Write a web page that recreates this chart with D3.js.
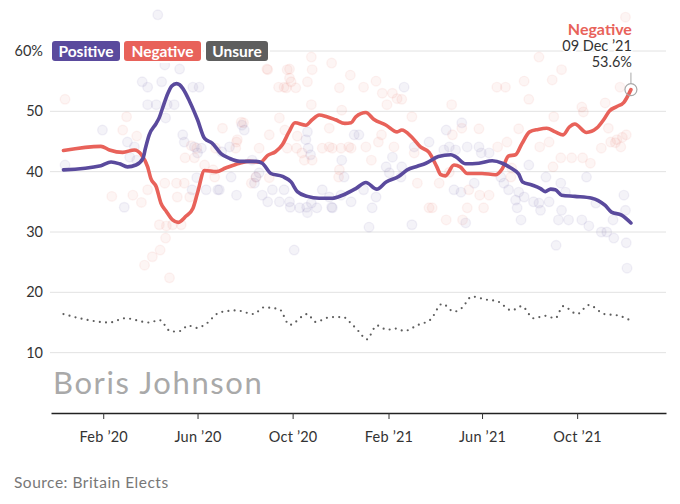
<!DOCTYPE html>
<html><head><meta charset="utf-8">
<script src="https://cdn.jsdelivr.net/npm/d3@7"></script>
<style>
body{margin:0;background:#fff}
svg{display:block}
text{font-family:Lato,"Noto Sans",sans-serif}
</style>
</head><body>
<svg id="chart" width="680" height="504"></svg>
<script>
// ---------- DATA ----------
const seriesNames = ["Positive", "Negative", "Unsure"];
const yTicks = [10, 20, 30, 40, 50, 60];
const xTickDates = ["2020-02-01", "2020-06-01", "2020-10-01", "2021-02-01", "2021-06-01", "2021-10-01"];

const positiveTrend = [["2019-12-12",40.3],["2020-01-29",41.0],["2020-02-11",41.6],["2020-02-22",41.3],["2020-03-03",40.8],["2020-03-14",41.1],["2020-03-23",42.2],["2020-03-26",43.8],["2020-03-31",46.1],["2020-04-09",48.0],["2020-04-13",49.0],["2020-04-17",50.5],["2020-04-24",53.0],["2020-04-29",54.2],["2020-05-05",54.6],["2020-05-09",54.4],["2020-05-13",53.8],["2020-05-22",51.6],["2020-06-01",48.6],["2020-06-10",45.5],["2020-06-20",44.7],["2020-07-01",43.0],["2020-07-12",42.2],["2020-07-25",41.7],["2020-08-06",41.7],["2020-08-15",41.7],["2020-08-23",41.4],["2020-09-03",39.7],["2020-09-18",39.2],["2020-09-29",38.3],["2020-10-07",36.7],["2020-10-20",35.9],["2020-11-04",35.6],["2020-11-21",35.6],["2020-12-04",36.1],["2020-12-21",37.2],["2021-01-03",38.2],["2021-01-17",37.1],["2021-01-29",38.3],["2021-02-14",39.2],["2021-02-25",40.3],["2021-03-10",40.9],["2021-03-21",41.4],["2021-04-06",42.5],["2021-04-22",42.8],["2021-04-28",42.5],["2021-05-11",41.3],["2021-05-28",41.4],["2021-06-14",41.8],["2021-06-27",41.4],["2021-07-08",40.6],["2021-07-18",39.6],["2021-07-23",38.3],["2021-08-04",37.8],["2021-08-15",37.2],["2021-08-21",36.7],["2021-08-28",37.1],["2021-09-03",37.0],["2021-09-11",36.1],["2021-09-28",35.9],["2021-10-20",35.6],["2021-10-28",35.2],["2021-11-06",34.4],["2021-11-14",33.3],["2021-11-27",32.8],["2021-12-09",31.5]];

const negativeTrend = [["2019-12-12",43.5],["2020-01-29",44.2],["2020-02-09",43.6],["2020-02-26",43.2],["2020-03-12",43.6],["2020-03-21",42.8],["2020-03-29",40.8],["2020-04-02",38.9],["2020-04-09",37.5],["2020-04-15",34.8],["2020-04-22",33.4],["2020-04-30",32.0],["2020-05-07",31.6],["2020-05-17",32.6],["2020-05-26",33.9],["2020-06-01",36.5],["2020-06-10",40.2],["2020-06-25",40.0],["2020-07-07",40.6],["2020-07-25",41.4],["2020-08-06",41.7],["2020-08-21",41.6],["2020-08-30",42.7],["2020-09-09",43.3],["2020-09-18",44.5],["2020-09-26",46.5],["2020-10-04",48.1],["2020-10-18",47.7],["2020-10-26",48.6],["2020-11-04",49.4],["2020-11-14",49.1],["2020-11-25",48.6],["2020-12-07",48.0],["2020-12-15",48.1],["2020-12-21",49.1],["2021-01-03",49.8],["2021-01-13",48.7],["2021-01-29",47.7],["2021-02-12",46.6],["2021-02-18",46.9],["2021-03-03",45.7],["2021-03-14",44.1],["2021-03-25",43.2],["2021-04-04",40.8],["2021-04-09",39.5],["2021-04-15",39.3],["2021-04-26",41.1],["2021-05-04",40.8],["2021-05-13",39.7],["2021-06-01",39.7],["2021-06-18",39.5],["2021-06-27",40.5],["2021-07-05",42.6],["2021-07-14",42.8],["2021-07-22",44.6],["2021-08-01",46.6],["2021-08-12",47.0],["2021-08-23",47.2],["2021-09-03",46.6],["2021-09-13",46.1],["2021-09-21",47.4],["2021-09-28",47.9],["2021-10-13",46.5],["2021-10-26",47.2],["2021-11-04",48.6],["2021-11-11",50.0],["2021-11-21",50.8],["2021-11-30",51.5],["2021-12-09",53.6]];

const unsureTrend = [["2019-12-12",16.4],["2020-01-09",15.5],["2020-02-09",15.0],["2020-02-29",15.7],["2020-03-31",15.0],["2020-04-13",15.4],["2020-04-28",13.5],["2020-05-10",13.6],["2020-05-20",14.5],["2020-05-31",14.1],["2020-06-10",14.6],["2020-06-30",16.7],["2020-07-21",17.0],["2020-08-12",16.4],["2020-08-25",17.5],["2020-09-14",17.2],["2020-09-27",14.6],["2020-10-20",16.4],["2020-10-30",15.1],["2020-11-19",15.9],["2020-12-05",15.9],["2020-12-13",15.1],["2020-12-25",13.5],["2021-01-04",12.2],["2021-01-17",14.5],["2021-01-30",13.8],["2021-02-11",14.0],["2021-02-21",13.6],["2021-03-11",14.6],["2021-03-27",15.5],["2021-04-11",18.1],["2021-04-26",16.8],["2021-05-06",17.4],["2021-05-19",19.3],["2021-06-06",18.8],["2021-06-21",18.5],["2021-07-09",17.0],["2021-07-22",17.7],["2021-08-06",15.7],["2021-08-21",16.1],["2021-09-03",15.7],["2021-09-13",17.7],["2021-10-01",16.4],["2021-10-16",17.9],["2021-11-05",16.4],["2021-11-21",16.2],["2021-12-09",15.3]];

const positivePolls = [["2019-12-14",41.1],["2020-01-31",46.9],["2020-02-28",34.1],["2020-03-03",44.9],["2020-03-12",44.1],["2020-03-06",42.4],["2020-03-15",41.9],["2020-03-22",54.9],["2020-03-29",54.0],["2020-03-29",51.1],["2020-04-11",66.0],["2020-04-20",57.7],["2020-05-09",57.0],["2020-04-16",54.9],["2020-05-26",54.0],["2020-06-03",54.0],["2020-05-02",51.1],["2020-04-23",51.1],["2020-04-09",51.1],["2020-04-21",48.9],["2020-05-13",46.1],["2020-05-15",44.9],["2020-05-28",44.1],["2020-06-01",43.1],["2020-06-06",43.9],["2020-07-12",44.1],["2020-07-02",43.3],["2020-07-21",36.1],["2020-05-25",37.0],["2020-06-27",37.0],["2020-07-14",39.1],["2020-05-31",39.0],["2020-06-12",37.0],["2020-06-29",37.0],["2020-07-28",47.7],["2020-07-31",46.9],["2020-08-10",41.9],["2020-08-15",39.1],["2020-08-19",39.8],["2020-08-23",36.1],["2020-08-30",35.0],["2020-09-05",37.0],["2020-09-14",35.0],["2020-09-27",35.0],["2020-09-28",34.1],["2020-10-10",34.0],["2020-10-19",34.1],["2020-10-20",33.2],["2020-10-25",34.8],["2020-11-01",34.0],["2020-11-08",37.0],["2020-11-21",34.0],["2020-12-02",36.1],["2020-12-03",41.9],["2020-12-15",35.0],["2020-10-18",45.3],["2020-10-21",43.9],["2020-10-20",46.6],["2020-12-19",46.1],["2020-10-03",27.0],["2020-10-24",42.8],["2020-09-20",37.0],["2020-08-13",38.1],["2020-11-17",35.8],["2020-11-20",34.1],["2020-12-06",39.1],["2021-02-21",54.0],["2020-12-25",46.1],["2020-12-31",37.0],["2021-01-16",35.8],["2021-01-11",34.0],["2021-01-07",30.8],["2021-01-29",40.8],["2021-02-06",42.4],["2021-02-18",40.8],["2021-03-06",44.1],["2021-03-25",44.9],["2021-03-03",31.2],["2021-02-17",39.1],["2021-02-02",39.8],["2021-04-16",46.9],["2021-04-13",43.6],["2021-05-06",48.1],["2021-04-20",44.1],["2021-04-28",43.6],["2021-05-13",44.1],["2021-05-28",44.1],["2021-05-31",43.1],["2021-06-10",43.1],["2021-05-22",38.1],["2021-04-26",37.0],["2021-05-05",36.6],["2021-06-25",39.1],["2021-06-29",38.1],["2021-07-05",37.0],["2021-07-18",36.6],["2021-07-25",35.8],["2021-07-31",41.1],["2021-07-14",35.3],["2021-07-16",34.0],["2021-08-06",35.0],["2021-08-13",34.8],["2021-07-21",32.0],["2021-05-11",31.5],["2021-08-15",33.6],["2021-08-22",39.1],["2021-09-10",38.1],["2021-09-16",36.6],["2021-08-26",35.0],["2021-09-11",33.6],["2021-09-07",32.0],["2021-09-20",32.0],["2021-10-07",32.0],["2021-10-16",31.0],["2021-11-01",30.0],["2021-11-08",30.0],["2021-11-17",29.0],["2021-11-30",36.1],["2021-12-02",33.6],["2021-11-16",32.0],["2021-12-03",28.2],["2021-12-04",24.0],["2021-09-04",27.8],["2021-10-13",39.1],["2021-10-25",34.8]];

const negativePolls = [["2019-12-14",52.0],["2020-03-02",49.1],["2020-02-26",46.9],["2020-03-15",45.9],["2020-02-12",35.9],["2020-03-10",36.1],["2020-03-21",34.9],["2020-03-29",37.0],["2020-03-25",24.5],["2020-07-30",48.1],["2020-07-03",47.2],["2020-07-21",44.9],["2020-05-24",44.3],["2020-06-10",41.1],["2020-06-23",39.1],["2020-05-05",38.1],["2020-04-20",38.1],["2020-05-15",38.1],["2020-05-22",35.8],["2020-05-06",35.8],["2020-04-30",31.2],["2020-05-11",31.2],["2020-04-13",31.2],["2020-04-22",31.0],["2020-04-21",29.0],["2020-04-14",27.0],["2020-04-04",25.9],["2020-04-26",22.4],["2020-06-24",43.9],["2020-05-16",42.3],["2020-05-31",43.9],["2020-05-28",42.3],["2020-06-21",40.3],["2020-07-22",45.3],["2020-07-20",43.9],["2020-08-19",43.9],["2020-09-01",46.1],["2020-09-24",43.9],["2020-10-06",43.9],["2020-10-16",41.9],["2020-10-26",41.9],["2020-11-08",43.9],["2020-11-21",43.9],["2020-12-02",43.9],["2020-12-15",43.9],["2020-09-14",48.9],["2020-09-23",53.9],["2020-09-13",54.0],["2020-09-27",55.5],["2020-10-05",53.9],["2020-10-20",54.9],["2020-10-26",56.9],["2020-11-20",58.0],["2020-11-30",53.9],["2020-12-14",56.0],["2020-12-03",50.2],["2020-10-25",51.1],["2020-08-30",56.9],["2020-09-24",56.9],["2020-07-27",48.2],["2020-09-01",39.0],["2020-10-25",59.0],["2020-08-29",57.0],["2020-09-27",57.0],["2020-09-20",54.0],["2020-09-29",54.9],["2020-11-17",47.2],["2020-09-21",46.9],["2020-10-07",45.9],["2020-11-17",44.1],["2020-10-13",43.1],["2020-11-30",40.3],["2020-08-15",39.1],["2020-08-09",38.1],["2020-11-29",39.1],["2021-01-16",55.0],["2020-12-31",54.0],["2021-02-06",53.0],["2021-01-24",53.0],["2021-02-12",52.1],["2021-02-18",52.0],["2021-01-30",51.1],["2021-03-03",49.1],["2020-12-12",44.1],["2021-01-03",44.1],["2021-01-19",44.9],["2021-01-23",46.1],["2021-02-08",44.1],["2021-01-10",41.9],["2021-03-06",43.1],["2021-03-10",38.1],["2021-04-07",38.1],["2021-03-25",34.0],["2021-03-29",34.0],["2021-04-16",32.0],["2021-08-13",59.0],["2021-07-25",55.0],["2021-06-20",54.0],["2021-07-01",54.0],["2021-07-31",52.0],["2021-04-23",51.1],["2021-07-18",47.1],["2021-05-28",47.1],["2021-04-24",46.1],["2021-05-06",47.2],["2021-07-03",44.9],["2021-06-21",44.1],["2021-04-20",39.9],["2021-05-15",37.0],["2021-05-29",36.1],["2021-06-10",36.1],["2021-06-03",34.0],["2021-05-13",34.0],["2021-05-07",32.0],["2021-07-09",40.6],["2021-07-08",39.1],["2021-08-14",44.1],["2021-12-02",65.6],["2021-09-11",56.9],["2021-08-30",55.2],["2021-10-07",50.7],["2021-09-01",49.1],["2021-11-10",47.2],["2021-12-03",46.1],["2021-11-21",45.3],["2021-11-13",44.9],["2021-08-26",44.9],["2021-09-10",42.3],["2021-09-24",42.3],["2021-10-08",42.3],["2021-10-18",41.4],["2021-11-01",43.9],["2021-11-26",44.1],["2021-08-31",40.8],["2021-11-25",54.0],["2021-10-09",49.9],["2021-11-06",51.4],["2021-11-19",44.8],["2021-11-28",45.7]];

const titleText = "Boris Johnson";
const sourceText = "Source: Britain Elects";

// ---------- STYLE / LAYOUT ----------
const colors = { Positive: "#5a4a9d", Negative: "#e8625a", Unsure: "#5e5e5e" };
const parse = d3.timeParse("%Y-%m-%d");
const svg = d3.select("#chart");

const x = d3.scaleTime()
  .domain([parse("2019-11-26"), parse("2022-01-23")])
  .range([51, 666]);
const y = d3.scaleLinear().domain([0, 60]).range([413, 51]);

// gridlines
svg.append("g").selectAll("line").data(yTicks).join("line")
  .attr("x1", 50).attr("x2", 666)
  .attr("y1", d => y(d)).attr("y2", d => y(d))
  .attr("stroke", "#e2e2e2").attr("stroke-width", 1);

// y labels
svg.append("g").selectAll("text").data(yTicks).join("text")
  .attr("x", 43).attr("y", d => y(d)).attr("dy", "0.35em")
  .attr("text-anchor", "end").attr("font-size", 14.5).attr("fill", "#333")
  .text(d => d === 60 ? d + "%" : d);

// scatter
function dots(data, color) {
  svg.append("g").selectAll("circle").data(data).join("circle")
    .attr("cx", d => x(parse(d[0]))).attr("cy", d => y(d[1])).attr("r", 4.8)
    .attr("fill", color).attr("fill-opacity", 0.065)
    .attr("stroke", color).attr("stroke-opacity", 0.07).attr("stroke-width", 1.4);
}
dots(negativePolls, colors.Negative);
dots(positivePolls, colors.Positive);

const line = d3.line().x(d => x(parse(d[0]))).y(d => y(d[1])).curve(d3.curveMonotoneX);

// unsure dotted
svg.append("path").datum(unsureTrend).attr("d", line)
  .attr("fill", "none").attr("stroke", colors.Unsure).attr("stroke-width", 2.2)
  .attr("stroke-linecap", "round").attr("stroke-dasharray", "0 6.2");

svg.append("path").datum(negativeTrend).attr("d", line)
  .attr("fill", "none").attr("stroke", colors.Negative).attr("stroke-width", 3.6)
  .attr("stroke-linejoin", "round").attr("stroke-linecap", "round");
svg.append("path").datum(positiveTrend).attr("d", line)
  .attr("fill", "none").attr("stroke", colors.Positive).attr("stroke-width", 3.6)
  .attr("stroke-linejoin", "round").attr("stroke-linecap", "round");

// x axis
const xAxis = d3.axisBottom(x)
  .tickValues(xTickDates.map(parse))
  .tickFormat(d3.timeFormat("%b \u2019%y"))
  .tickSize(6).tickSizeOuter(0).tickPadding(13);
const gx = svg.append("g").attr("transform", "translate(0,413)").call(xAxis);
gx.select(".domain").attr("stroke", "#222").attr("stroke-width", 1.6);
gx.selectAll(".tick line").attr("stroke", "#333");
gx.selectAll(".tick text").attr("font-family", "Lato, 'Noto Sans', sans-serif")
  .attr("font-size", 14.5).attr("fill", "#333").attr("letter-spacing", 0.2);

// annotation on last negative point
const last = negativeTrend[negativeTrend.length - 1];
const lx = x(parse(last[0])), ly = y(last[1]);
svg.append("circle").attr("cx", lx).attr("cy", ly).attr("r", 6)
  .attr("fill", "none").attr("stroke", "#a8a8a8").attr("stroke-width", 1.2);
svg.append("line").attr("x1", lx).attr("x2", lx).attr("y1", ly - 6).attr("y2", ly - 17)
  .attr("stroke", "#a8a8a8").attr("stroke-width", 1);
const ann = svg.append("g").attr("text-anchor", "end");
const annX = lx + 1;
ann.append("text").attr("x", annX).attr("y", ly - 55).attr("font-size", 16)
  .attr("font-weight", 700).attr("fill", colors.Negative).text("Negative")
  .attr("stroke", "#fff").attr("stroke-width", 3).attr("paint-order", "stroke");
ann.append("text").attr("x", annX).attr("y", ly - 38.5).attr("font-size", 14.5)
  .attr("fill", "#333").text("09 Dec \u201921")
  .attr("stroke", "#fff").attr("stroke-width", 3).attr("paint-order", "stroke");
ann.append("text").attr("x", annX).attr("y", ly - 22.5).attr("font-size", 14.5)
  .attr("fill", "#333").text(last[1].toFixed(1) + "%")
  .attr("stroke", "#fff").attr("stroke-width", 3).attr("paint-order", "stroke");

// legend
const legendBoxes = [{x: 52, w: 68}, {x: 124, w: 77}, {x: 206, w: 62}];
const lg = svg.append("g");
seriesNames.forEach((name, i) => {
  const b = legendBoxes[i];
  lg.append("rect").attr("x", b.x - 2).attr("y", 39).attr("width", b.w + 4).attr("height", 24).attr("fill", "#fff");
  lg.append("rect").attr("x", b.x).attr("y", 41).attr("width", b.w).attr("height", 20)
    .attr("rx", 3).attr("fill", colors[name]);
  lg.append("text").attr("x", b.x + b.w / 2).attr("y", 56.5).attr("text-anchor", "middle")
    .attr("font-size", 15.5).attr("font-weight", 700).attr("fill", "#fff").text(name);
});

// title & source
svg.append("text").attr("x", 53).attr("y", 394).attr("font-size", 31)
  .attr("letter-spacing", 1.6).attr("fill", "#a9a9a9").text(titleText);
svg.append("text").attr("x", 14).attr("y", 488).attr("font-size", 15.5)
  .attr("letter-spacing", 0.5).attr("fill", "#777").text(sourceText);
</script>
</body></html>
